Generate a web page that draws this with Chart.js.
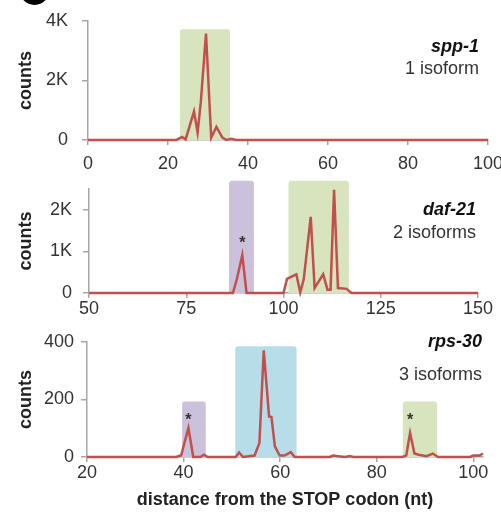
<!DOCTYPE html>
<html>
<head>
<meta charset="utf-8">
<title>distance from the STOP codon</title>
<script src="https://cdn.jsdelivr.net/npm/chart.js@4.4.0/dist/chart.umd.min.js"></script>
<style>
  body { margin: 0; background: #fff; }
  #wrap { position: relative; width: 501px; height: 518px; }
  canvas { position: absolute; left: 0; }
</style>
</head>
<body>
<div id="wrap">
  <canvas id="c1" width="501" height="172" style="top:0"></canvas>
  <canvas id="c2" width="501" height="158" style="top:172px"></canvas>
  <canvas id="c3" width="501" height="188" style="top:330px"></canvas>
</div>
<script>
// spp-1
var sppPos    = [0, 22, 23.5, 24.4, 26.5, 27.4, 28.2, 29.5, 30.8, 32.1, 33.6, 34.6, 35.8, 37, 100];
var sppCounts = [0, 0, 100, 20, 960, 250, 1270, 3580, 80, 440, 80, 0, 40, 0, 0];
var sppTicksX = [0, 20, 40, 60, 80, 100];
var sppTicksY = [0, 2000, 4000];
var sppRegions = [[23, 35.5, 3720]];          // from, to, top
var sppStars = [];

// daf-21
var dafPos    = [50, 87, 88, 89.4, 90.5, 100, 100.9, 103.3, 104.3, 105.2, 107, 108, 110.2, 111.3, 112.1, 113, 114, 116.2, 117.5, 150];
var dafCounts = [0, 0, 330, 910, 0, 0, 340, 450, 15, 330, 1830, 120, 450, 80, 80, 2480, 120, 100, 0, 0];
var dafTicksX = [50, 75, 100, 125, 150];
var dafTicksY = [0, 1000, 2000];
var dafRegions = [[86, 92.4, 2700], [101.3, 116.8, 2700]];
var dafStars = [[89.4, 1300]];

// rps-30
var rpsPos    = [20, 38.5, 39.5, 41, 42, 43.5, 44.2, 45, 50.8, 51.5, 52.3, 54.7, 55.7, 56.6, 57.7, 58.2, 58.9, 59.9, 60.9, 62.2, 63,
                 70.3, 71, 72, 73.5, 74.4, 75.2, 85.3, 86.1, 86.9, 87.8, 88.7, 90.3, 91.6, 92.7, 99.3, 100, 101.3, 102];
var rpsCounts = [0, 0, 6, 101, 0, 0, 8, 0, 0, 16, 0, 5, 49, 371, 141, 139, 37, 5, 5, 17, 0,
                 0, 5, 3, 0, 3, 0, 0, 5, 84, 12, 8, 3, 12, 0, 0, 5, 5, 12];
var rpsTicksX = [20, 40, 60, 80, 100];
var rpsTicksY = [0, 200, 400];
var rpsRegions = [[39.7, 44.6, 193], [50.7, 63.4, 385], [85.4, 92.5, 193]];
var rpsStars = [[41, 144], [86.9, 144]];

var GREEN = '#d7e4bd', PURPLE = '#ccc1da', BLUE = '#b7dee8';
var FONT = 'Liberation Sans';

function countLabel(v) { return v >= 1000 ? (v / 1000) + 'K' : String(v); }

var extrasPlugin = {
  id: 'extras',
  beforeDatasetsDraw: function (chart, args, o) {
    var ctx = chart.ctx, xs = chart.scales.x, ys = chart.scales.y;
    ctx.save();
    o.regions.forEach(function (r, i) {
      var x1 = xs.getPixelForValue(r[0]), x2 = xs.getPixelForValue(r[1]);
      var yt = ys.getPixelForValue(r[2]), yb = ys.getPixelForValue(0), rad = 3;
      ctx.fillStyle = o.colors[i];
      ctx.beginPath();
      ctx.moveTo(x1, yb);
      ctx.lineTo(x1, yt + rad);
      ctx.quadraticCurveTo(x1, yt, x1 + rad, yt);
      ctx.lineTo(x2 - rad, yt);
      ctx.quadraticCurveTo(x2, yt, x2, yt + rad);
      ctx.lineTo(x2, yb);
      ctx.closePath();
      ctx.fill();
    });
    ctx.restore();
  },
  afterDraw: function (chart, args, o) {
    var ctx = chart.ctx, xs = chart.scales.x, ys = chart.scales.y;
    ctx.save();
    ctx.fillStyle = '#333';
    ctx.textAlign = 'center';
    ctx.textBaseline = 'alphabetic';
    ctx.font = 'bold 16px ' + FONT;
    o.stars.forEach(function (s) {
      ctx.fillText('*', xs.getPixelForValue(s[0]), ys.getPixelForValue(s[1]) + 9);
    });
    ctx.textAlign = 'right';
    ctx.fillStyle = '#111';
    ctx.font = 'italic bold 18px ' + FONT;
    ctx.fillText(o.gene, o.lx, o.geneY);
    ctx.fillStyle = '#333';
    ctx.font = '18px ' + FONT;
    ctx.fillText(o.iso, o.lx, o.isoY);
    if (o.badge) {
      ctx.fillStyle = '#000';
      ctx.beginPath();
      ctx.arc(34.5, -10, 15, 0, Math.PI * 2);
      ctx.fill();
    }
    ctx.restore();
  }
};

function makePanel(id, pos, counts, ticksX, ticksY, xMin, xMax, yMax, box, extras, xTitle) {
  var points = pos.map(function (p, i) { return { x: p, y: counts[i] }; });
  return new Chart(document.getElementById(id), {
    type: 'line',
    data: { datasets: [{
      data: points, borderColor: '#c0504d', borderWidth: 2.5,
      pointRadius: 0, tension: 0, fill: false, clip: 6
    }] },
    plugins: [extrasPlugin],
    options: {
      responsive: false, animation: false,
      layout: { padding: { left: 0, top: box.top, right: box.right, bottom: 0 } },
      plugins: { legend: { display: false }, tooltip: { enabled: false }, extras: extras },
      scales: {
        x: {
          type: 'linear', min: xMin, max: xMax,
          afterBuildTicks: function (s) { s.ticks = ticksX.map(function (v) { return { value: v }; }); },
          afterFit: function (s) { s.height = box.xHeight; s.paddingLeft = 0; s.paddingRight = 0; },
          grid: { drawOnChartArea: false, tickLength: 5, color: '#a6a6a6', lineWidth: 1.5 },
          border: { color: '#a6a6a6', width: 1.5 },
          ticks: { font: { family: FONT, size: 18 }, color: '#333', padding: box.xPad, maxRotation: 0, autoSkip: false },
          title: xTitle ? { display: true, text: xTitle, font: { family: FONT, size: 18, weight: 'bold' },
                            color: '#222', padding: { top: 0, bottom: 7 } } : { display: false }
        },
        y: {
          min: 0, max: yMax,
          afterBuildTicks: function (s) { s.ticks = ticksY.map(function (v) { return { value: v }; }); },
          afterFit: function (s) { s.width = box.yWidth; s.paddingTop = 0; s.paddingBottom = 0; },
          grid: { drawOnChartArea: false, tickLength: 6, color: '#a6a6a6', lineWidth: 1.5 },
          border: { color: '#a6a6a6', width: 1.5 },
          ticks: { font: { family: FONT, size: 18 }, color: '#333', padding: box.yPad, callback: countLabel },
          title: { display: true, text: 'counts', font: { family: FONT, size: 18, weight: 'bold' },
                   color: '#222', padding: { top: 15, bottom: 0 } }
        }
      }
    }
  });
}

makePanel('c1', sppPos, sppCounts, sppTicksX, sppTicksY, 0, 100, 4000,
  { top: 21, right: 13, yWidth: 88, xHeight: 32, xPad: 8, yPad: 14 },
  { regions: sppRegions, colors: [GREEN], stars: sppStars, gene: 'spp-1', iso: '1 isoform',
    lx: 479, geneY: 52, isoY: 74, badge: true });

makePanel('c2', dafPos, dafCounts, dafTicksX, dafTicksY, 50, 150, 2500,
  { top: 17, right: 23, yWidth: 89, xHeight: 37, xPad: 0, yPad: 11 },
  { regions: dafRegions, colors: [PURPLE, GREEN], stars: dafStars, gene: 'daf-21', iso: '2 isoforms',
    lx: 476, geneY: 43, isoY: 66, badge: false });

makePanel('c3', rpsPos, rpsCounts, rpsTicksX, rpsTicksY, 20, 102, 400,
  { top: 12, right: 18, yWidth: 87, xHeight: 61, xPad: 0, yPad: 7 },
  { regions: rpsRegions, colors: [PURPLE, BLUE, GREEN], stars: rpsStars, gene: 'rps-30', iso: '3 isoforms',
    lx: 482, geneY: 17, isoY: 50, badge: false },
  'distance from the STOP codon (nt)');
</script>
</body>
</html>
